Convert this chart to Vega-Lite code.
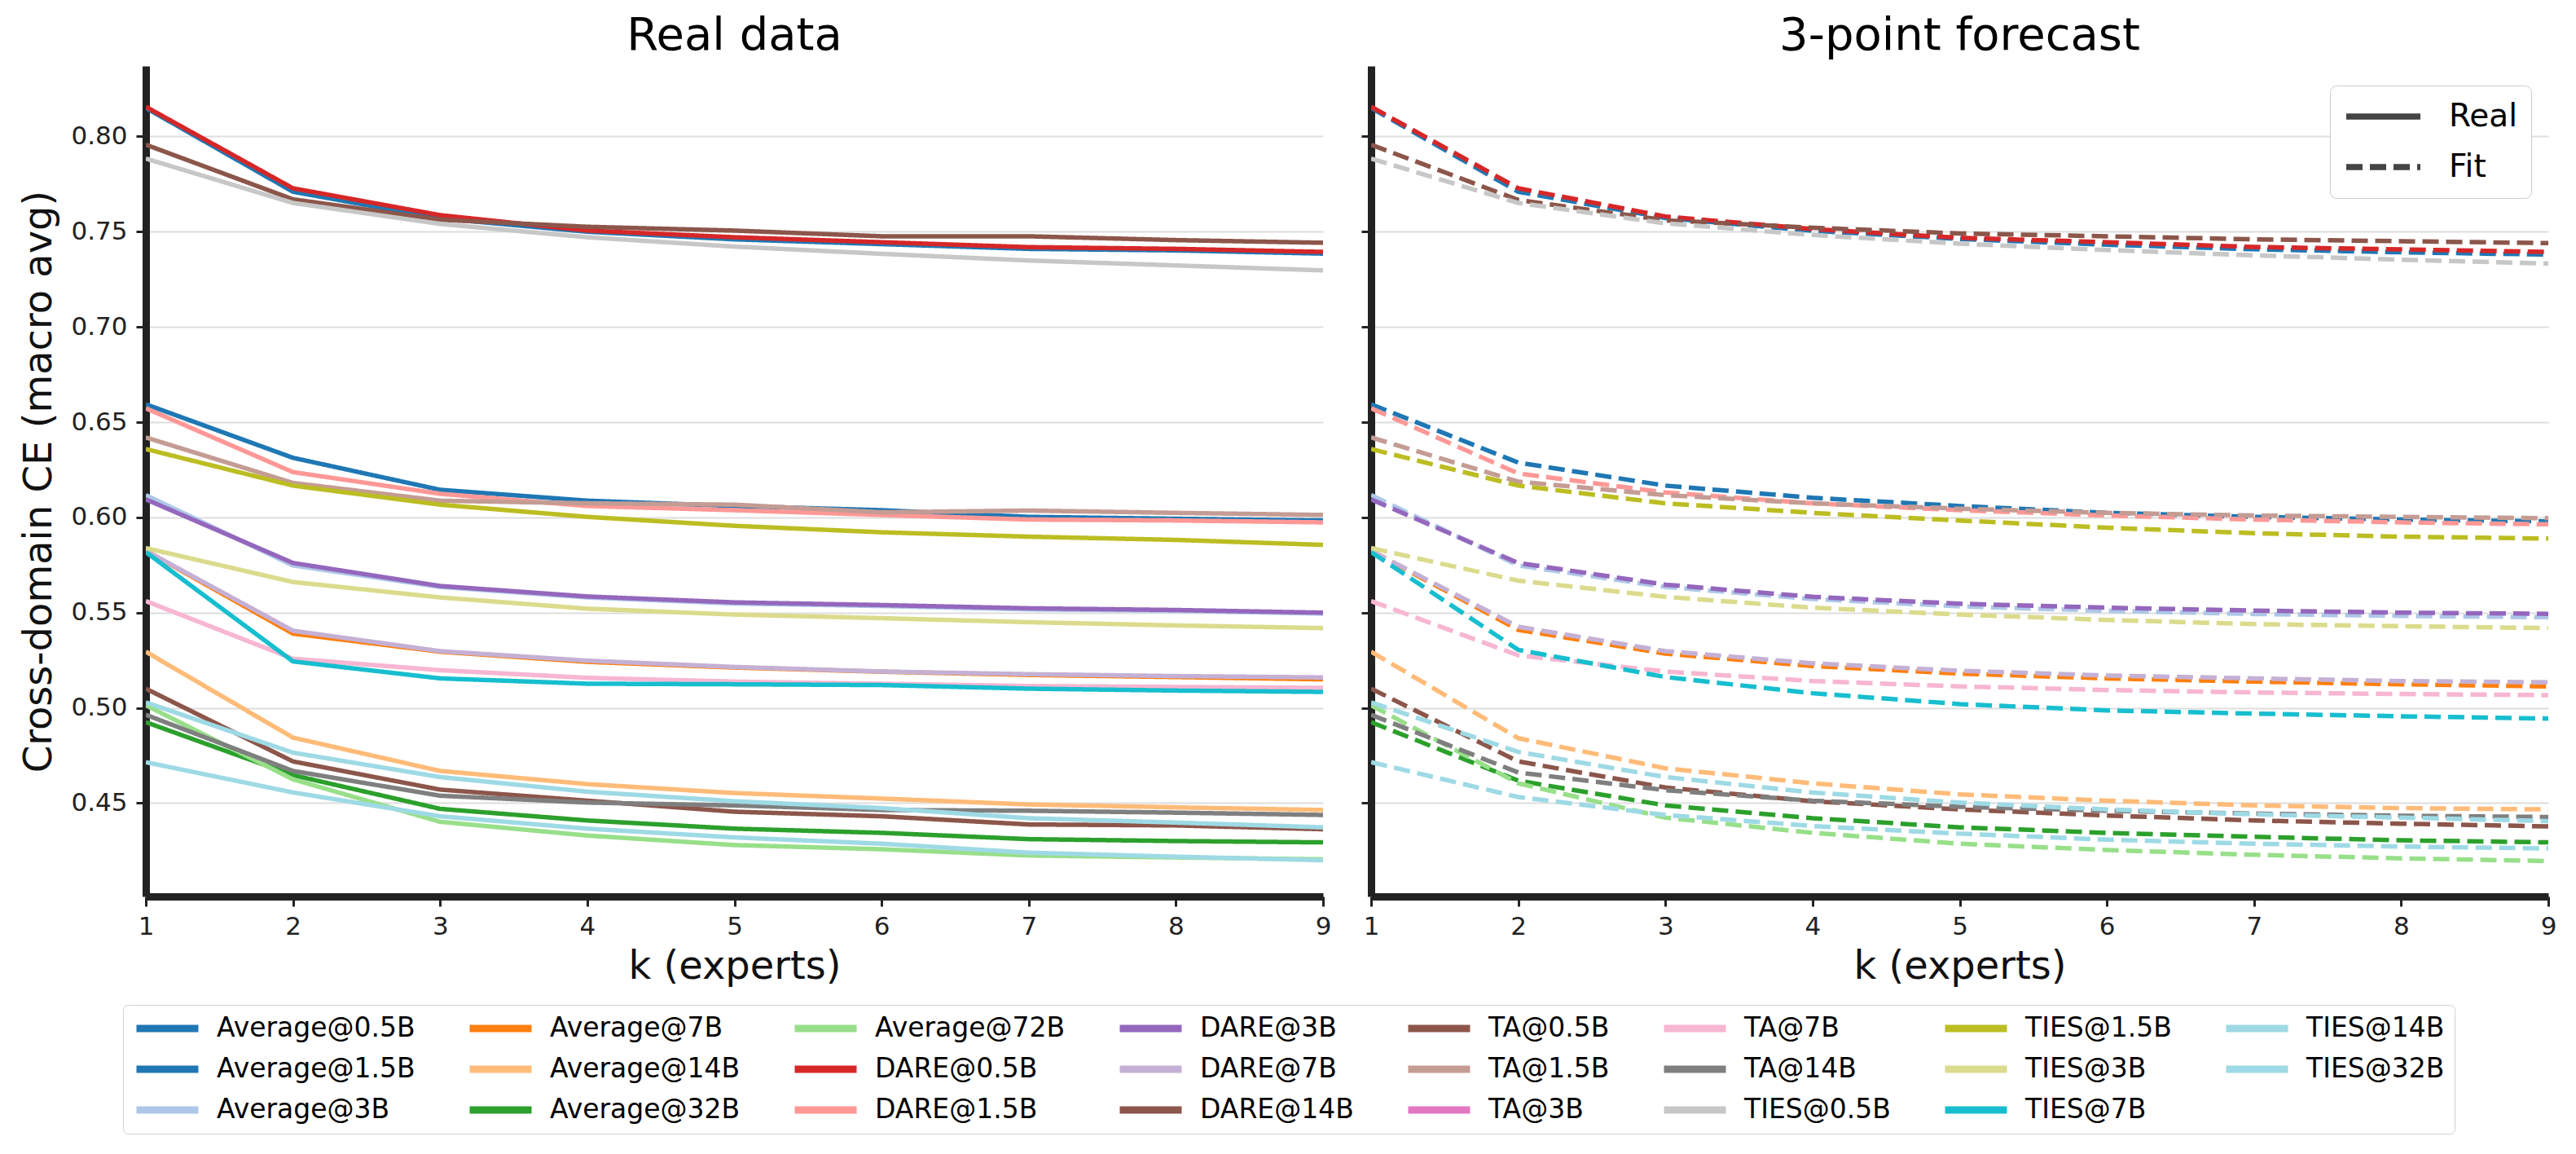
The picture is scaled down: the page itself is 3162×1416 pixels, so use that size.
{
  "$schema": "https://vega.github.io/schema/vega-lite/v6.json",
  "background": "white",
  "padding": {"left": 24, "top": 16, "right": 10, "bottom": 5},
  "config": {
    "font": "DejaVu Sans",
    "view": {"stroke": null},
    "concat": {"spacing": 35},
    "axis": {
      "domainColor": "#222222", "domainWidth": 9, "tickColor": "#222222", "tickWidth": 3, "tickSize": 12,
      "labelFont": "DejaVu Sans", "labelFontSize": 31, "labelColor": "#222222",
      "titleFont": "DejaVu Sans", "titleFontSize": 48, "titleFontWeight": "normal", "titleColor": "#111111",
      "gridColor": "#dedede", "gridWidth": 2
    },
    "axisX": {"grid": false, "labelPadding": 10, "titlePadding": 10, "labelFlush": false, "labelOverlap": false},
    "axisY": {"grid": true, "labelPadding": 11, "titlePadding": 14, "labelOverlap": false},
    "legend": {"labelFont": "DejaVu Sans", "labelColor": "#000000"},
    "title": {"font": "DejaVu Sans", "fontSize": 56, "fontWeight": "normal", "color": "#000000", "offset": 8}
  },
  "resolve": {"scale": {"x": "independent", "y": "independent"}},
  "data": {"values": [
    {"s":"Average@0.5B","k":1,"real":0.815,"fit":0.815},{"s":"Average@0.5B","k":2,"real":0.771,"fit":0.771},{"s":"Average@0.5B","k":3,"real":0.757,"fit":0.7572},{"s":"Average@0.5B","k":4,"real":0.750,"fit":0.7505},{"s":"Average@0.5B","k":5,"real":0.746,"fit":0.7462},{"s":"Average@0.5B","k":6,"real":0.7435,"fit":0.7432},{"s":"Average@0.5B","k":7,"real":0.741,"fit":0.7408},{"s":"Average@0.5B","k":8,"real":0.7402,"fit":0.7392},{"s":"Average@0.5B","k":9,"real":0.7385,"fit":0.738},
    {"s":"Average@1.5B","k":1,"real":0.6594,"fit":0.6594},{"s":"Average@1.5B","k":2,"real":0.6313,"fit":0.6288},{"s":"Average@1.5B","k":3,"real":0.6145,"fit":0.6167},{"s":"Average@1.5B","k":4,"real":0.6088,"fit":0.6103},{"s":"Average@1.5B","k":5,"real":0.606,"fit":0.606},{"s":"Average@1.5B","k":6,"real":0.6038,"fit":0.6024},{"s":"Average@1.5B","k":7,"real":0.6003,"fit":0.6003},{"s":"Average@1.5B","k":8,"real":0.5993,"fit":0.5989},{"s":"Average@1.5B","k":9,"real":0.5984,"fit":0.5979},
    {"s":"Average@3B","k":1,"real":0.6117,"fit":0.6117},{"s":"Average@3B","k":2,"real":0.5748,"fit":0.5748},{"s":"Average@3B","k":3,"real":0.5635,"fit":0.5635},{"s":"Average@3B","k":4,"real":0.558,"fit":0.5572},{"s":"Average@3B","k":5,"real":0.5548,"fit":0.5533},{"s":"Average@3B","k":6,"real":0.5535,"fit":0.551},{"s":"Average@3B","k":7,"real":0.5517,"fit":0.5493},{"s":"Average@3B","k":8,"real":0.551,"fit":0.5483},{"s":"Average@3B","k":9,"real":0.5495,"fit":0.5476},
    {"s":"Average@7B","k":1,"real":0.5825,"fit":0.5825},{"s":"Average@7B","k":2,"real":0.539,"fit":0.541},{"s":"Average@7B","k":3,"real":0.5295,"fit":0.5285},{"s":"Average@7B","k":4,"real":0.5242,"fit":0.522},{"s":"Average@7B","k":5,"real":0.5212,"fit":0.518},{"s":"Average@7B","k":6,"real":0.519,"fit":0.5155},{"s":"Average@7B","k":7,"real":0.5173,"fit":0.5138},{"s":"Average@7B","k":8,"real":0.5162,"fit":0.5124},{"s":"Average@7B","k":9,"real":0.515,"fit":0.5113},
    {"s":"Average@14B","k":1,"real":0.5295,"fit":0.5295},{"s":"Average@14B","k":2,"real":0.4844,"fit":0.4841},{"s":"Average@14B","k":3,"real":0.4669,"fit":0.4683},{"s":"Average@14B","k":4,"real":0.46,"fit":0.4604},{"s":"Average@14B","k":5,"real":0.4553,"fit":0.4546},{"s":"Average@14B","k":6,"real":0.4524,"fit":0.4513},{"s":"Average@14B","k":7,"real":0.4493,"fit":0.4488},{"s":"Average@14B","k":8,"real":0.4478,"fit":0.4474},{"s":"Average@14B","k":9,"real":0.4464,"fit":0.4467},
    {"s":"Average@32B","k":1,"real":0.4925,"fit":0.4925},{"s":"Average@32B","k":2,"real":0.4647,"fit":0.4618},{"s":"Average@32B","k":3,"real":0.447,"fit":0.4488},{"s":"Average@32B","k":4,"real":0.4409,"fit":0.4421},{"s":"Average@32B","k":5,"real":0.4366,"fit":0.4373},{"s":"Average@32B","k":6,"real":0.4344,"fit":0.4344},{"s":"Average@32B","k":7,"real":0.4311,"fit":0.4323},{"s":"Average@32B","k":8,"real":0.4301,"fit":0.4305},{"s":"Average@32B","k":9,"real":0.4294,"fit":0.4294},
    {"s":"Average@72B","k":1,"real":0.5014,"fit":0.5014},{"s":"Average@72B","k":2,"real":0.4625,"fit":0.4604},{"s":"Average@72B","k":3,"real":0.4402,"fit":0.4424},{"s":"Average@72B","k":4,"real":0.433,"fit":0.4344},{"s":"Average@72B","k":5,"real":0.428,"fit":0.4287},{"s":"Average@72B","k":6,"real":0.4258,"fit":0.4254},{"s":"Average@72B","k":7,"real":0.4225,"fit":0.4229},{"s":"Average@72B","k":8,"real":0.4215,"fit":0.421},{"s":"Average@72B","k":9,"real":0.4205,"fit":0.4196},
    {"s":"DARE@0.5B","k":1,"real":0.8156,"fit":0.8156},{"s":"DARE@0.5B","k":2,"real":0.7728,"fit":0.7728},{"s":"DARE@0.5B","k":3,"real":0.7587,"fit":0.758},{"s":"DARE@0.5B","k":4,"real":0.7506,"fit":0.7514},{"s":"DARE@0.5B","k":5,"real":0.7471,"fit":0.7468},{"s":"DARE@0.5B","k":6,"real":0.7445,"fit":0.7445},{"s":"DARE@0.5B","k":7,"real":0.7419,"fit":0.742},{"s":"DARE@0.5B","k":8,"real":0.741,"fit":0.7407},{"s":"DARE@0.5B","k":9,"real":0.7394,"fit":0.7394},
    {"s":"DARE@1.5B","k":1,"real":0.6573,"fit":0.6573},{"s":"DARE@1.5B","k":2,"real":0.6238,"fit":0.6231},{"s":"DARE@1.5B","k":3,"real":0.6124,"fit":0.6131},{"s":"DARE@1.5B","k":4,"real":0.606,"fit":0.6074},{"s":"DARE@1.5B","k":5,"real":0.6038,"fit":0.6038},{"s":"DARE@1.5B","k":6,"real":0.6013,"fit":0.601},{"s":"DARE@1.5B","k":7,"real":0.5989,"fit":0.5989},{"s":"DARE@1.5B","k":8,"real":0.5984,"fit":0.5974},{"s":"DARE@1.5B","k":9,"real":0.5974,"fit":0.5964},
    {"s":"DARE@3B","k":1,"real":0.6095,"fit":0.6095},{"s":"DARE@3B","k":2,"real":0.5761,"fit":0.5761},{"s":"DARE@3B","k":3,"real":0.564,"fit":0.5647},{"s":"DARE@3B","k":4,"real":0.5585,"fit":0.5583},{"s":"DARE@3B","k":5,"real":0.5554,"fit":0.5547},{"s":"DARE@3B","k":6,"real":0.554,"fit":0.5526},{"s":"DARE@3B","k":7,"real":0.5523,"fit":0.5511},{"s":"DARE@3B","k":8,"real":0.5514,"fit":0.55},{"s":"DARE@3B","k":9,"real":0.55,"fit":0.5494},
    {"s":"DARE@7B","k":1,"real":0.5825,"fit":0.5825},{"s":"DARE@7B","k":2,"real":0.5405,"fit":0.5426},{"s":"DARE@7B","k":3,"real":0.5298,"fit":0.5298},{"s":"DARE@7B","k":4,"real":0.5248,"fit":0.5234},{"s":"DARE@7B","k":5,"real":0.5215,"fit":0.5195},{"s":"DARE@7B","k":6,"real":0.5191,"fit":0.517},{"s":"DARE@7B","k":7,"real":0.5177,"fit":0.5155},{"s":"DARE@7B","k":8,"real":0.5167,"fit":0.5141},{"s":"DARE@7B","k":9,"real":0.516,"fit":0.5134},
    {"s":"DARE@14B","k":1,"real":0.5101,"fit":0.5101},{"s":"DARE@14B","k":2,"real":0.4719,"fit":0.4719},{"s":"DARE@14B","k":3,"real":0.4571,"fit":0.4582},{"s":"DARE@14B","k":4,"real":0.4513,"fit":0.451},{"s":"DARE@14B","k":5,"real":0.4455,"fit":0.4467},{"s":"DARE@14B","k":6,"real":0.4431,"fit":0.4435},{"s":"DARE@14B","k":7,"real":0.4388,"fit":0.4409},{"s":"DARE@14B","k":8,"real":0.4383,"fit":0.4392},{"s":"DARE@14B","k":9,"real":0.4363,"fit":0.4378},
    {"s":"TA@0.5B","k":1,"real":0.7957,"fit":0.7957},{"s":"TA@0.5B","k":2,"real":0.767,"fit":0.7667},{"s":"TA@0.5B","k":3,"real":0.7563,"fit":0.756},{"s":"TA@0.5B","k":4,"real":0.7526,"fit":0.7521},{"s":"TA@0.5B","k":5,"real":0.7506,"fit":0.7491},{"s":"TA@0.5B","k":6,"real":0.7476,"fit":0.7476},{"s":"TA@0.5B","k":7,"real":0.7476,"fit":0.746},{"s":"TA@0.5B","k":8,"real":0.7456,"fit":0.745},{"s":"TA@0.5B","k":9,"real":0.7442,"fit":0.744},
    {"s":"TA@1.5B","k":1,"real":0.642,"fit":0.642},{"s":"TA@1.5B","k":2,"real":0.6181,"fit":0.6188},{"s":"TA@1.5B","k":3,"real":0.6088,"fit":0.6117},{"s":"TA@1.5B","k":4,"real":0.6074,"fit":0.6074},{"s":"TA@1.5B","k":5,"real":0.6067,"fit":0.6046},{"s":"TA@1.5B","k":6,"real":0.6027,"fit":0.6024},{"s":"TA@1.5B","k":7,"real":0.6036,"fit":0.601},{"s":"TA@1.5B","k":8,"real":0.6024,"fit":0.6003},{"s":"TA@1.5B","k":9,"real":0.6013,"fit":0.5996},
    {"s":"TA@7B","k":1,"real":0.5561,"fit":0.5561},{"s":"TA@7B","k":2,"real":0.5258,"fit":0.5276},{"s":"TA@7B","k":3,"real":0.5198,"fit":0.5191},{"s":"TA@7B","k":4,"real":0.5158,"fit":0.5141},{"s":"TA@7B","k":5,"real":0.5138,"fit":0.5113},{"s":"TA@7B","k":6,"real":0.5127,"fit":0.5094},{"s":"TA@7B","k":7,"real":0.5115,"fit":0.5081},{"s":"TA@7B","k":8,"real":0.511,"fit":0.5073},{"s":"TA@7B","k":9,"real":0.5105,"fit":0.5067},
    {"s":"TA@14B","k":1,"real":0.4964,"fit":0.4964},{"s":"TA@14B","k":2,"real":0.4669,"fit":0.4661},{"s":"TA@14B","k":3,"real":0.4539,"fit":0.4568},{"s":"TA@14B","k":4,"real":0.4503,"fit":0.4513},{"s":"TA@14B","k":5,"real":0.4488,"fit":0.4481},{"s":"TA@14B","k":6,"real":0.4464,"fit":0.446},{"s":"TA@14B","k":7,"real":0.446,"fit":0.4445},{"s":"TA@14B","k":8,"real":0.445,"fit":0.4434},{"s":"TA@14B","k":9,"real":0.4438,"fit":0.4427},
    {"s":"TIES@0.5B","k":1,"real":0.7884,"fit":0.7884},{"s":"TIES@0.5B","k":2,"real":0.7651,"fit":0.7651},{"s":"TIES@0.5B","k":3,"real":0.7541,"fit":0.7544},{"s":"TIES@0.5B","k":4,"real":0.7471,"fit":0.7483},{"s":"TIES@0.5B","k":5,"real":0.7422,"fit":0.7437},{"s":"TIES@0.5B","k":6,"real":0.7384,"fit":0.7404},{"s":"TIES@0.5B","k":7,"real":0.7349,"fit":0.7376},{"s":"TIES@0.5B","k":8,"real":0.7323,"fit":0.7353},{"s":"TIES@0.5B","k":9,"real":0.7297,"fit":0.7333},
    {"s":"TIES@1.5B","k":1,"real":0.6359,"fit":0.6359},{"s":"TIES@1.5B","k":2,"real":0.6167,"fit":0.6167},{"s":"TIES@1.5B","k":3,"real":0.6067,"fit":0.6074},{"s":"TIES@1.5B","k":4,"real":0.6003,"fit":0.6024},{"s":"TIES@1.5B","k":5,"real":0.5956,"fit":0.5984},{"s":"TIES@1.5B","k":6,"real":0.5922,"fit":0.5946},{"s":"TIES@1.5B","k":7,"real":0.5899,"fit":0.5917},{"s":"TIES@1.5B","k":8,"real":0.5882,"fit":0.5899},{"s":"TIES@1.5B","k":9,"real":0.5856,"fit":0.5889},
    {"s":"TIES@3B","k":1,"real":0.5839,"fit":0.5839},{"s":"TIES@3B","k":2,"real":0.5661,"fit":0.5668},{"s":"TIES@3B","k":3,"real":0.558,"fit":0.5583},{"s":"TIES@3B","k":4,"real":0.5521,"fit":0.5526},{"s":"TIES@3B","k":5,"real":0.549,"fit":0.549},{"s":"TIES@3B","k":6,"real":0.5471,"fit":0.5462},{"s":"TIES@3B","k":7,"real":0.545,"fit":0.544},{"s":"TIES@3B","k":8,"real":0.5433,"fit":0.5429},{"s":"TIES@3B","k":9,"real":0.5419,"fit":0.5419},
    {"s":"TIES@7B","k":1,"real":0.5818,"fit":0.5818},{"s":"TIES@7B","k":2,"real":0.5244,"fit":0.5305},{"s":"TIES@7B","k":3,"real":0.5155,"fit":0.5162},{"s":"TIES@7B","k":4,"real":0.5127,"fit":0.5077},{"s":"TIES@7B","k":5,"real":0.5124,"fit":0.502},{"s":"TIES@7B","k":6,"real":0.512,"fit":0.4987},{"s":"TIES@7B","k":7,"real":0.5101,"fit":0.497},{"s":"TIES@7B","k":8,"real":0.5091,"fit":0.4956},{"s":"TIES@7B","k":9,"real":0.5084,"fit":0.4944},
    {"s":"TIES@14B","k":1,"real":0.5029,"fit":0.5029},{"s":"TIES@14B","k":2,"real":0.4765,"fit":0.4769},{"s":"TIES@14B","k":3,"real":0.4637,"fit":0.4637},{"s":"TIES@14B","k":4,"real":0.456,"fit":0.4556},{"s":"TIES@14B","k":5,"real":0.451,"fit":0.4503},{"s":"TIES@14B","k":6,"real":0.4474,"fit":0.4467},{"s":"TIES@14B","k":7,"real":0.4421,"fit":0.4441},{"s":"TIES@14B","k":8,"real":0.4398,"fit":0.4424},{"s":"TIES@14B","k":9,"real":0.4373,"fit":0.4406},
    {"s":"TIES@32B","k":1,"real":0.4715,"fit":0.4715},{"s":"TIES@32B","k":2,"real":0.4556,"fit":0.4532},{"s":"TIES@32B","k":3,"real":0.4431,"fit":0.4438},{"s":"TIES@32B","k":4,"real":0.4366,"fit":0.438},{"s":"TIES@32B","k":5,"real":0.432,"fit":0.434},{"s":"TIES@32B","k":6,"real":0.4287,"fit":0.4308},{"s":"TIES@32B","k":7,"real":0.424,"fit":0.4287},{"s":"TIES@32B","k":8,"real":0.4219,"fit":0.4272},{"s":"TIES@32B","k":9,"real":0.42,"fit":0.4262}
  ]},
  "hconcat": [
    {
      "width": 1445,
      "height": 1019,
      "title": {"text": "Real data"},
      "mark": {"type": "line", "strokeWidth": 5.5, "clip": true},
      "encoding": {
        "x": {"field": "k", "type": "quantitative", "scale": {"domain": [1, 9], "nice": false, "zero": false},
              "axis": {"title": "k (experts)", "values": [1,2,3,4,5,6,7,8,9], "format": "d"}},
        "y": {"field": "real", "type": "quantitative", "scale": {"domain": [0.401, 0.837], "nice": false, "zero": false},
              "axis": {"title": "Cross-domain CE (macro avg)", "values": [0.45,0.5,0.55,0.6,0.65,0.7,0.75,0.8], "format": ".2f"}},
        "color": {"field": "s", "type": "nominal",
          "scale": {
            "domain": ["Average@0.5B","Average@7B","Average@72B","DARE@3B","TA@0.5B","TA@7B","TIES@1.5B","TIES@14B",
                       "Average@1.5B","Average@14B","DARE@0.5B","DARE@7B","TA@1.5B","TA@14B","TIES@3B","TIES@32B",
                       "Average@3B","Average@32B","DARE@1.5B","DARE@14B","TA@3B","TIES@0.5B","TIES@7B"],
            "range": ["#1f77b4","#ff7f0e","#98df8a","#9467bd","#8c564b","#f7b6d2","#bcbd22","#9edae5",
                      "#1f77b4","#ffbb78","#d62728","#c5b0d5","#c49c94","#7f7f7f","#dbdb8d","#9edae5",
                      "#aec7e8","#2ca02c","#ff9896","#8c564b","#e377c2","#c7c7c7","#17becf"]
          },
          "legend": {"orient": "none", "legendX": -28, "legendY": 1152, "direction": "horizontal", "columns": 8,
                     "title": null, "symbolType": "stroke", "symbolSize": 5776, "symbolStrokeWidth": 9,
                     "clipHeight": 34, "labelFontSize": 33, "columnPadding": 62, "rowPadding": 16, "padding": 12,
                     "strokeColor": "#d0d0d0", "fillColor": "white", "cornerRadius": 6, "labelOffset": 18, "labelLimit": 400}
        },
        "strokeDash": {"datum": "Real", "type": "nominal",
          "scale": {"domain": ["Real", "Fit"], "range": [[1, 0], [20, 9]]},
          "legend": {"orient": "none", "legendX": 2681, "legendY": 24, "title": null, "symbolType": "stroke",
                     "symbolSize": 8281, "symbolStrokeWidth": 7.5, "symbolStrokeColor": "#444444",
                     "clipHeight": 44, "labelFontSize": 39, "rowPadding": 18, "padding": 16, "strokeColor": "#cccccc",
                     "fillColor": "white", "cornerRadius": 8, "labelOffset": 31}
        }
      }
    },
    {
      "width": 1445,
      "height": 1019,
      "title": {"text": "3-point forecast"},
      "mark": {"type": "line", "strokeWidth": 5.5, "clip": true},
      "encoding": {
        "x": {"field": "k", "type": "quantitative", "scale": {"domain": [1, 9], "nice": false, "zero": false},
              "axis": {"title": "k (experts)", "values": [1,2,3,4,5,6,7,8,9], "format": "d"}},
        "y": {"field": "fit", "type": "quantitative", "scale": {"domain": [0.401, 0.837], "nice": false, "zero": false},
              "axis": {"title": null, "labels": false, "values": [0.45,0.5,0.55,0.6,0.65,0.7,0.75,0.8]}},
        "color": {"field": "s", "type": "nominal"},
        "strokeDash": {"datum": "Fit", "type": "nominal"}
      }
    }
  ]
}
